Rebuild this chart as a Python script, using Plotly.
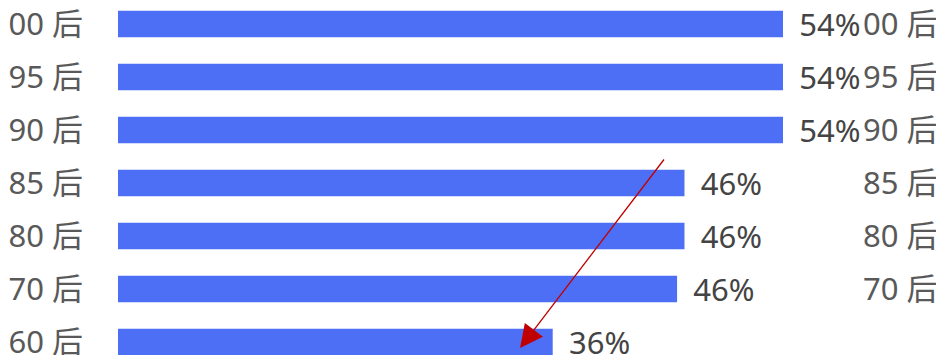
import plotly.graph_objects as go

# categories bottom -> top
categories = ["60 后", "70 后", "80 后", "85 后", "90 后", "95 后", "00 后"]
values = [35.3, 45.4, 46.0, 46.0, 54.0, 54.0, 54.0]
value_labels = ["36%", "46%", "46%", "46%", "54%", "54%", "54%"]

BAR = "#4D6FF6"
FONT = "Noto Sans, Noto Sans CJK SC, sans-serif"

y_range = [-0.245, 6.453]
x_max = 60.09

fig = go.Figure()
fig.add_trace(go.Bar(
    x=values, y=categories, orientation="h",
    marker=dict(color=BAR, line=dict(width=0)),
    width=0.5,
    text=["\u00a0\u2009" + t for t in value_labels],
    textposition="outside",
    constraintext="none",
    cliponaxis=False,
    textfont=dict(family=FONT, size=31, color="#444444"),
    hoverinfo="skip",
))

fig.add_annotation(
    x=32.65, y=-0.113, ax=44.43, ay=3.472,
    xref="x", yref="y", axref="x", ayref="y",
    text="", showarrow=True,
    arrowhead=2, arrowsize=3.5, arrowwidth=1.3, arrowcolor="#C00000",
)

fig.update_layout(
    width=936, height=355,
    margin=dict(l=118, r=78, t=0, b=0),
    paper_bgcolor="white", plot_bgcolor="white",
    showlegend=False,
    bargap=0.5,
    xaxis=dict(range=[0, x_max], visible=False, fixedrange=True),
    yaxis=dict(
        type="category", categoryorder="array", categoryarray=categories,
        range=y_range, showgrid=False, zeroline=False, showline=False,
        ticks="", ticklabelstandoff=34, automargin=False,
        tickfont=dict(family=FONT, size=31, color="#595959"),
    ),
    yaxis2=dict(
        overlaying="y", side="right", range=y_range,
        tickmode="array", tickvals=list(range(len(categories))), ticktext=categories,
        showgrid=False, zeroline=False, showline=False,
        ticks="", ticklabelstandoff=4, automargin=False,
        tickfont=dict(family=FONT, size=31, color="#595959"),
    ),
)
fig.add_trace(go.Scatter(x=[None], y=[None], yaxis="y2", showlegend=False, hoverinfo="skip"))

fig.write_html("out.html")
